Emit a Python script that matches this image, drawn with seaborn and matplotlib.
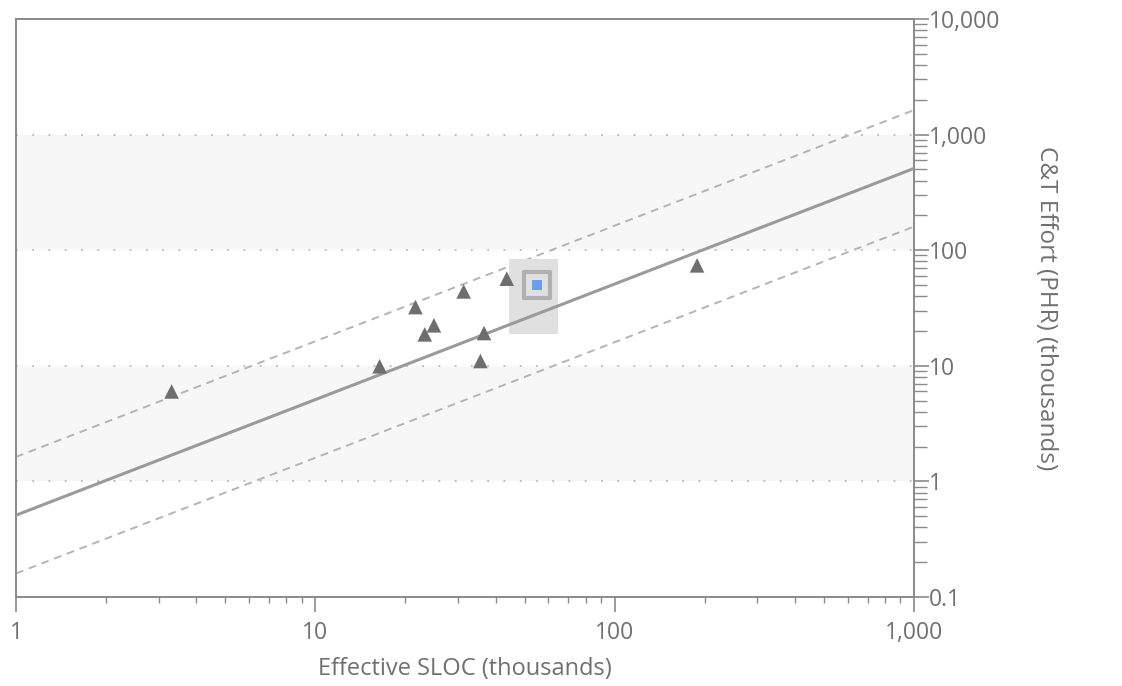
import matplotlib
matplotlib.use("Agg")
import matplotlib.pyplot as plt
from matplotlib.patches import Rectangle
import pandas as pd
import seaborn as sns

# project data (thousands)
sloc = [3.31, 16.4, 21.6, 23.2, 24.9, 31.3, 35.6, 36.6, 43.6, 188.5]
effort = [6.0, 9.9, 32.2, 18.7, 22.4, 44.0, 11.0, 19.2, 56.7, 73.9]

# current project (highlighted)
current_sloc = [55.0]
current_effort = [50.1]

# trend line and +/- bounds
trend_x = [1, 1000]
trend_y = [0.51, 510]
upper_y = [1.63, 1630]
lower_y = [0.16, 160]

# axis ticks
x_ticks = [1, 10, 100, 1000]
x_labels = ["1", "10", "100", "1,000"]
y_ticks = [0.1, 1, 10, 100, 1000, 10000]
y_labels = ["0.1", "1", "10", "100", "1,000", "10,000"]
grid_y = [1, 10, 100, 1000]
bands = [(1, 10), (100, 1000)]

sns.set_style("white")
plt.rcParams["font.family"] = ["Open Sans", "DejaVu Sans"]

axis_grey = "#8a8a8a"
text_grey = "#707070"

fig = plt.figure(figsize=(11.22, 6.86), dpi=100)
ax = fig.add_axes([16 / 1122, 1 - 597 / 686, 898 / 1122, 578 / 686])
ax.set_xscale("log")
ax.set_yscale("log")
ax.set_xlim(1, 1000)
ax.set_ylim(0.1, 10000)

for lo, hi in bands:
    ax.axhspan(lo, hi, color="#f7f7f7", zorder=0, lw=0)
for g in grid_y:
    ax.axhline(g, color="#b8b8b8", lw=1.3, ls=(0, (1, 8)), zorder=1)

trend = pd.DataFrame({"x": trend_x, "trend": trend_y, "upper": upper_y, "lower": lower_y})
sns.lineplot(data=trend, x="x", y="upper", ax=ax, color="#b4b4b4", lw=1.4,
             ls=(0, (4, 3)), zorder=2)
sns.lineplot(data=trend, x="x", y="lower", ax=ax, color="#b4b4b4", lw=1.4,
             ls=(0, (4, 3)), zorder=2)
sns.lineplot(data=trend, x="x", y="trend", ax=ax, color="#9a9a9a", lw=2.2, zorder=3)

# highlight box around the current project
cx, cy = current_sloc[0], current_effort[0]
ax.add_patch(Rectangle((cx * 0.805, cy * 0.373), cx * (1.18 - 0.805), cy * (1.66 - 0.373),
                       facecolor="#e0e0e0", edgecolor="none", zorder=2.5))

pts = pd.DataFrame({"sloc": sloc, "effort": effort})
sns.scatterplot(data=pts, x="sloc", y="effort", ax=ax, marker="^", s=110,
                color="#6e6e6e", edgecolor="none", zorder=4)

cur = pd.DataFrame({"sloc": current_sloc, "effort": current_effort})
sns.scatterplot(data=cur, x="sloc", y="effort", ax=ax, marker="s", s=340,
                facecolor="#e0e0e0", edgecolor="#b0b0b0", linewidth=3, zorder=5)
sns.scatterplot(data=cur, x="sloc", y="effort", ax=ax, marker="s", s=60,
                color="#6d9eeb", edgecolor="none", zorder=6)

# axes styling
for side in ["left", "bottom", "right", "top"]:
    ax.spines[side].set_visible(True)
    ax.spines[side].set_color(axis_grey)
    ax.spines[side].set_linewidth(1.4)

ax.yaxis.tick_right()
ax.yaxis.set_label_position("right")
ax.set_xticks(x_ticks)
ax.set_xticklabels(x_labels)
ax.set_yticks(y_ticks)
ax.set_yticklabels(y_labels)
ax.tick_params(axis="x", which="major", direction="out", length=11, width=1.2,
               color=axis_grey, labelcolor=text_grey, labelsize=16.5, pad=6)
ax.tick_params(axis="x", which="minor", direction="out", length=4.5, width=1.0,
               color=axis_grey)
ax.tick_params(axis="y", which="major", direction="out", length=11, width=1.2,
               color=axis_grey, labelcolor=text_grey, labelsize=16.5, pad=0)
ax.tick_params(axis="y", which="minor", direction="out", length=9, width=1.0,
               color=axis_grey)
ax.tick_params(axis="y", which="both", left=False, right=True)
ax.tick_params(axis="x", which="both", top=False, bottom=True)

ax.set_xlabel("Effective SLOC (thousands)", color=text_grey, fontsize=17, labelpad=9)
ax.set_ylabel("C&T Effort (PHR) (thousands)", color=text_grey, fontsize=17.5,
              rotation=270, labelpad=24, va="bottom")

fig.savefig("out.png", dpi=100, facecolor="white")
